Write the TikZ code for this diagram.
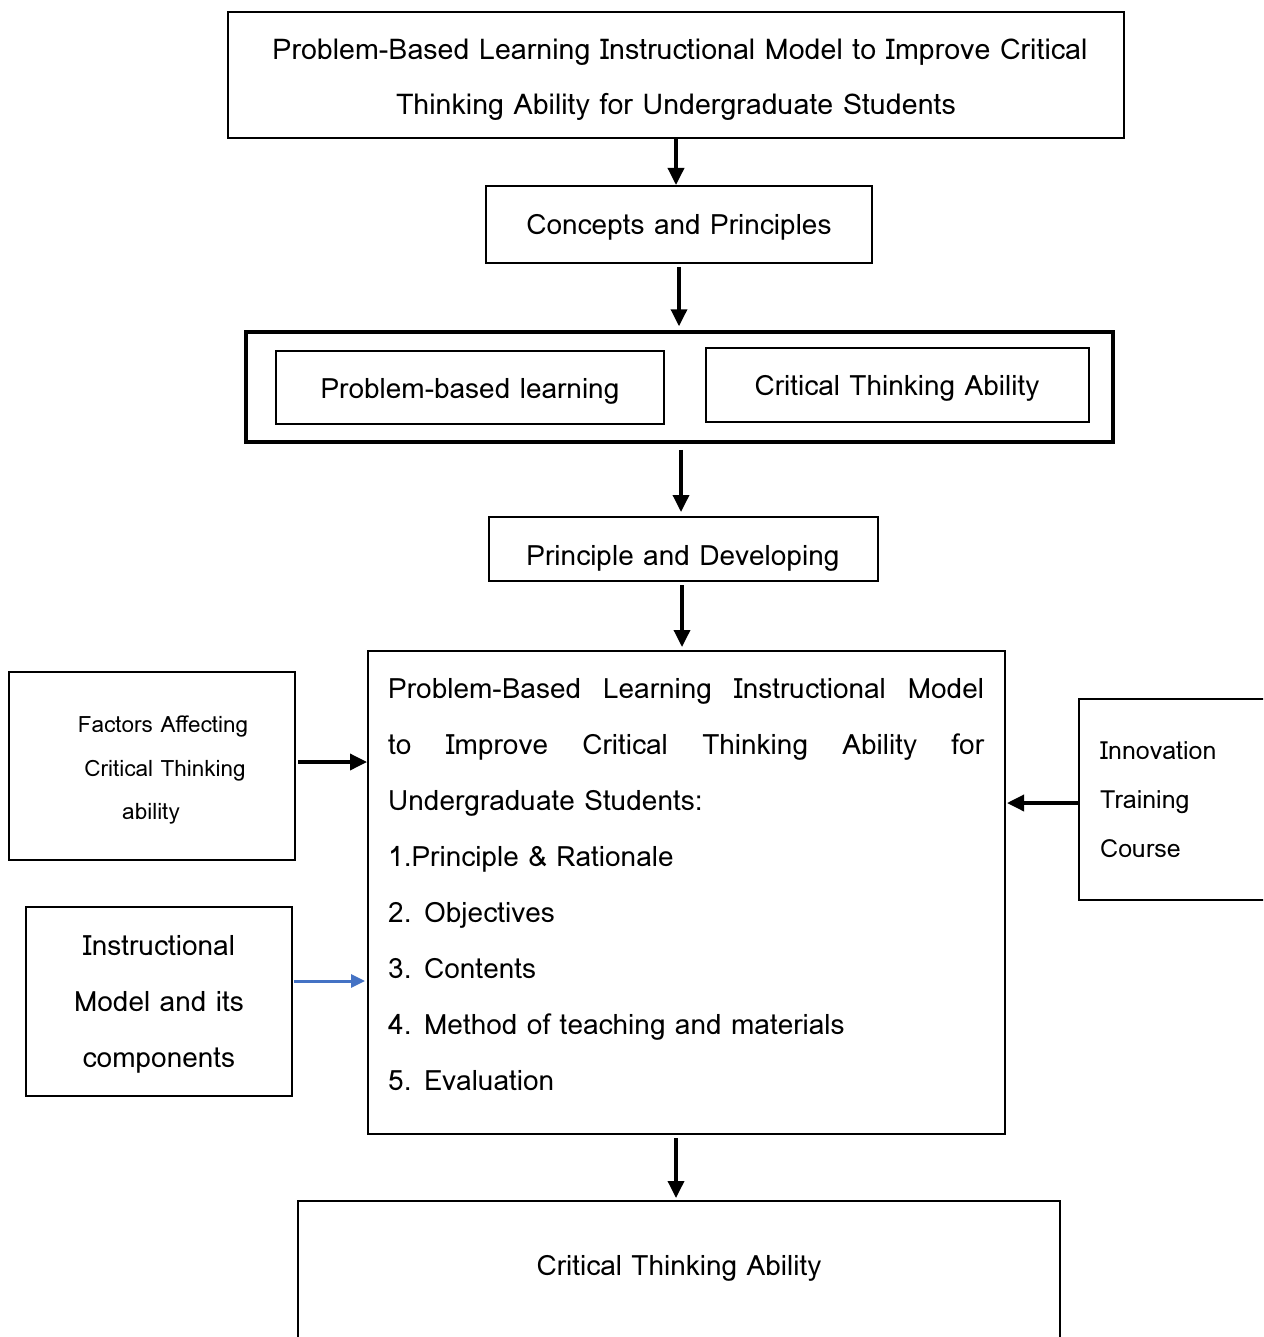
\documentclass[tikz,border=0pt]{standalone}
\usepackage{fontspec}
\setmainfont{Loma}
\usetikzlibrary{arrows.meta,calc}
\tikzset{
  box/.style={draw, line width=2pt, inner sep=0pt, align=center},
  arr/.style={line width=3.5pt, -{Triangle[length=17pt,width=16pt]}},
  txt/.style={inner sep=0pt, anchor=base west},
  ctxt/.style={inner sep=0pt, anchor=base},
}
\newcommand{\fz}{\fontsize{28}{56}\selectfont}
\newcommand{\jl}[1]{\makebox[596pt][s]{#1}}
\begin{document}
\begin{tikzpicture}[x=1pt,y=-1pt]
\clip (0,0) rectangle (1263,1337);
\fill[white] (0,0) rectangle (1263,1337);
% boxes
\node[box, minimum width=896pt, minimum height=126pt] (title) at (676,75) {};
\node[box, minimum width=386pt, minimum height=77pt] (concepts) at (679,224.5) {};
\node[box, line width=3.5pt, minimum width=867pt, minimum height=110pt] (outer) at (679.5,387) {};
\node[box, minimum width=388pt, minimum height=73pt] (pbl) at (470,387.5) {};
\node[box, minimum width=383pt, minimum height=74pt] (cta) at (897.5,385) {};
\node[box, minimum width=389pt, minimum height=64pt] (principle) at (683.5,549) {};
\node[box, minimum width=637pt, minimum height=483pt] (model) at (686.5,892.5) {};
\node[box, minimum width=286pt, minimum height=188pt] (factors) at (152,766) {};
\node[box, minimum width=266pt, minimum height=189pt] (instr) at (159,1001.5) {};
\node[box, minimum width=192pt, minimum height=201pt] (innov) at (1175,799.5) {};
\node[box, minimum width=762pt, minimum height=144pt] (final) at (679,1273) {};
% texts
\node[ctxt] (t1) at (680,60) {\fontsize{28.6}{56}\selectfont Problem-Based Learning Instructional Model to Improve Critical};
\node[ctxt] (t2) at (676,115) {\fontsize{28.6}{56}\selectfont Thinking Ability for Undergraduate Students};
\node[ctxt] (c1) at (679,235) {\fz Concepts and Principles};
\node[ctxt] (p1) at (470,398) {\fz Problem-based learning};
\node[ctxt] (p2) at (897,395) {\fz Critical Thinking Ability};
\node[ctxt] (d1) at (683,565) {\fz Principle and Developing};
\node[txt] (m1) at (388,698) {\fz\jl{Problem-Based Learning Instructional Model}};
\node[txt] (m2) at (388,754) {\fz\jl{to Improve Critical Thinking Ability for}};
\node[txt] (m3) at (388,810) {\fz Undergraduate Students:};
\node[txt] (m4) at (388,866) {\fz 1.Principle \& Rationale};
\node[txt] (m5) at (388,922) {\fz 2. Objectives};
\node[txt] (m6) at (388,978) {\fz 3. Contents};
\node[txt] (m7) at (388,1034) {\fz 4. Method of teaching and materials};
\node[txt] (m8) at (388,1090) {\fz 5. Evaluation};
\node[ctxt] (f1) at (163,732) {\fontsize{22.5}{44}\selectfont Factors Affecting};
\node[ctxt] (f2) at (165,776) {\fontsize{22.5}{44}\selectfont Critical Thinking};
\node[ctxt] (f3) at (151,819) {\fontsize{22.5}{44}\selectfont ability};
\node[ctxt] (i1) at (159,955) {\fz Instructional};
\node[ctxt] (i2) at (159,1011) {\fz Model and its};
\node[ctxt] (i3) at (159,1067) {\fz components};
\node[txt] (n1) at (1100,759) {\fontsize{25}{49}\selectfont Innovation};
\node[txt] (n2) at (1100,808) {\fontsize{25}{49}\selectfont Training};
\node[txt] (n3) at (1100,857) {\fontsize{25}{49}\selectfont Course};
\node[ctxt] (ft) at (679,1275) {\fz Critical Thinking Ability};
% arrows
\draw[arr] (title.south) -- (title.south |- concepts.north);
\draw[arr, shorten <=3pt, shorten >=4pt] (concepts.south) -- (concepts.south |- outer.north);
\draw[arr, shorten <=6pt, shorten >=4pt] ([xshift=1.5pt]outer.south) -- ([xshift=1.5pt]outer.south |- principle.north);
\draw[arr, shorten <=3pt, shorten >=3pt] ([xshift=-1.5pt]principle.south) -- ([xshift=-1.5pt]principle.south |- model.north);
\draw[arr, shorten <=3pt, shorten >=2pt] ([xshift=-3pt]final.north |- model.south) -- ([xshift=-3pt]final.north);
\draw[arr, shorten <=2pt] ([yshift=4pt]factors.east) -- ([yshift=4pt]factors.east -| model.west);
\draw[line width=3pt, -{Triangle[length=14pt,width=13pt]}, color={rgb,255:red,68;green,114;blue,196}, shorten <=1pt, shorten >=2pt] ([yshift=20.5pt]instr.east) -- ([yshift=20.5pt]instr.east -| model.west);
\draw[arr, shorten >=1pt] ([yshift=-3.5pt]innov.west) -- ([yshift=-3.5pt]innov.west -| model.east);
\end{tikzpicture}
\end{document}
